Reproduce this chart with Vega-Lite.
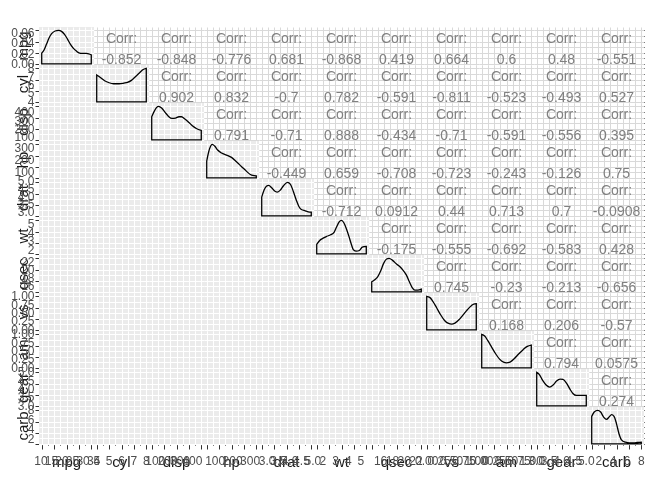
{
  "$schema": "https://vega.github.io/schema/vega-lite/v6.json",
  "background": "white",
  "bounds": "flush",
  "padding": {"left": 11, "top": 27, "right": 5, "bottom": 5},
  "data": {"values": [
    {"k":"c","r":"mpg","c":"mpg","t":"d"},
    {"k":"c","r":"mpg","c":"cyl","t":"u","v":"-0.852"},
    {"k":"c","r":"mpg","c":"disp","t":"u","v":"-0.848"},
    {"k":"c","r":"mpg","c":"hp","t":"u","v":"-0.776"},
    {"k":"c","r":"mpg","c":"drat","t":"u","v":"0.681"},
    {"k":"c","r":"mpg","c":"wt","t":"u","v":"-0.868"},
    {"k":"c","r":"mpg","c":"qsec","t":"u","v":"0.419"},
    {"k":"c","r":"mpg","c":"vs","t":"u","v":"0.664"},
    {"k":"c","r":"mpg","c":"am","t":"u","v":"0.6"},
    {"k":"c","r":"mpg","c":"gear","t":"u","v":"0.48"},
    {"k":"c","r":"mpg","c":"carb","t":"u","v":"-0.551"},
    {"k":"c","r":"cyl","c":"mpg","t":"l"},
    {"k":"c","r":"cyl","c":"cyl","t":"d"},
    {"k":"c","r":"cyl","c":"disp","t":"u","v":"0.902"},
    {"k":"c","r":"cyl","c":"hp","t":"u","v":"0.832"},
    {"k":"c","r":"cyl","c":"drat","t":"u","v":"-0.7"},
    {"k":"c","r":"cyl","c":"wt","t":"u","v":"0.782"},
    {"k":"c","r":"cyl","c":"qsec","t":"u","v":"-0.591"},
    {"k":"c","r":"cyl","c":"vs","t":"u","v":"-0.811"},
    {"k":"c","r":"cyl","c":"am","t":"u","v":"-0.523"},
    {"k":"c","r":"cyl","c":"gear","t":"u","v":"-0.493"},
    {"k":"c","r":"cyl","c":"carb","t":"u","v":"0.527"},
    {"k":"c","r":"disp","c":"mpg","t":"l"},
    {"k":"c","r":"disp","c":"cyl","t":"l"},
    {"k":"c","r":"disp","c":"disp","t":"d"},
    {"k":"c","r":"disp","c":"hp","t":"u","v":"0.791"},
    {"k":"c","r":"disp","c":"drat","t":"u","v":"-0.71"},
    {"k":"c","r":"disp","c":"wt","t":"u","v":"0.888"},
    {"k":"c","r":"disp","c":"qsec","t":"u","v":"-0.434"},
    {"k":"c","r":"disp","c":"vs","t":"u","v":"-0.71"},
    {"k":"c","r":"disp","c":"am","t":"u","v":"-0.591"},
    {"k":"c","r":"disp","c":"gear","t":"u","v":"-0.556"},
    {"k":"c","r":"disp","c":"carb","t":"u","v":"0.395"},
    {"k":"c","r":"hp","c":"mpg","t":"l"},
    {"k":"c","r":"hp","c":"cyl","t":"l"},
    {"k":"c","r":"hp","c":"disp","t":"l"},
    {"k":"c","r":"hp","c":"hp","t":"d"},
    {"k":"c","r":"hp","c":"drat","t":"u","v":"-0.449"},
    {"k":"c","r":"hp","c":"wt","t":"u","v":"0.659"},
    {"k":"c","r":"hp","c":"qsec","t":"u","v":"-0.708"},
    {"k":"c","r":"hp","c":"vs","t":"u","v":"-0.723"},
    {"k":"c","r":"hp","c":"am","t":"u","v":"-0.243"},
    {"k":"c","r":"hp","c":"gear","t":"u","v":"-0.126"},
    {"k":"c","r":"hp","c":"carb","t":"u","v":"0.75"},
    {"k":"c","r":"drat","c":"mpg","t":"l"},
    {"k":"c","r":"drat","c":"cyl","t":"l"},
    {"k":"c","r":"drat","c":"disp","t":"l"},
    {"k":"c","r":"drat","c":"hp","t":"l"},
    {"k":"c","r":"drat","c":"drat","t":"d"},
    {"k":"c","r":"drat","c":"wt","t":"u","v":"-0.712"},
    {"k":"c","r":"drat","c":"qsec","t":"u","v":"0.0912"},
    {"k":"c","r":"drat","c":"vs","t":"u","v":"0.44"},
    {"k":"c","r":"drat","c":"am","t":"u","v":"0.713"},
    {"k":"c","r":"drat","c":"gear","t":"u","v":"0.7"},
    {"k":"c","r":"drat","c":"carb","t":"u","v":"-0.0908"},
    {"k":"c","r":"wt","c":"mpg","t":"l"},
    {"k":"c","r":"wt","c":"cyl","t":"l"},
    {"k":"c","r":"wt","c":"disp","t":"l"},
    {"k":"c","r":"wt","c":"hp","t":"l"},
    {"k":"c","r":"wt","c":"drat","t":"l"},
    {"k":"c","r":"wt","c":"wt","t":"d"},
    {"k":"c","r":"wt","c":"qsec","t":"u","v":"-0.175"},
    {"k":"c","r":"wt","c":"vs","t":"u","v":"-0.555"},
    {"k":"c","r":"wt","c":"am","t":"u","v":"-0.692"},
    {"k":"c","r":"wt","c":"gear","t":"u","v":"-0.583"},
    {"k":"c","r":"wt","c":"carb","t":"u","v":"0.428"},
    {"k":"c","r":"qsec","c":"mpg","t":"l"},
    {"k":"c","r":"qsec","c":"cyl","t":"l"},
    {"k":"c","r":"qsec","c":"disp","t":"l"},
    {"k":"c","r":"qsec","c":"hp","t":"l"},
    {"k":"c","r":"qsec","c":"drat","t":"l"},
    {"k":"c","r":"qsec","c":"wt","t":"l"},
    {"k":"c","r":"qsec","c":"qsec","t":"d"},
    {"k":"c","r":"qsec","c":"vs","t":"u","v":"0.745"},
    {"k":"c","r":"qsec","c":"am","t":"u","v":"-0.23"},
    {"k":"c","r":"qsec","c":"gear","t":"u","v":"-0.213"},
    {"k":"c","r":"qsec","c":"carb","t":"u","v":"-0.656"},
    {"k":"c","r":"vs","c":"mpg","t":"l"},
    {"k":"c","r":"vs","c":"cyl","t":"l"},
    {"k":"c","r":"vs","c":"disp","t":"l"},
    {"k":"c","r":"vs","c":"hp","t":"l"},
    {"k":"c","r":"vs","c":"drat","t":"l"},
    {"k":"c","r":"vs","c":"wt","t":"l"},
    {"k":"c","r":"vs","c":"qsec","t":"l"},
    {"k":"c","r":"vs","c":"vs","t":"d"},
    {"k":"c","r":"vs","c":"am","t":"u","v":"0.168"},
    {"k":"c","r":"vs","c":"gear","t":"u","v":"0.206"},
    {"k":"c","r":"vs","c":"carb","t":"u","v":"-0.57"},
    {"k":"c","r":"am","c":"mpg","t":"l"},
    {"k":"c","r":"am","c":"cyl","t":"l"},
    {"k":"c","r":"am","c":"disp","t":"l"},
    {"k":"c","r":"am","c":"hp","t":"l"},
    {"k":"c","r":"am","c":"drat","t":"l"},
    {"k":"c","r":"am","c":"wt","t":"l"},
    {"k":"c","r":"am","c":"qsec","t":"l"},
    {"k":"c","r":"am","c":"vs","t":"l"},
    {"k":"c","r":"am","c":"am","t":"d"},
    {"k":"c","r":"am","c":"gear","t":"u","v":"0.794"},
    {"k":"c","r":"am","c":"carb","t":"u","v":"0.0575"},
    {"k":"c","r":"gear","c":"mpg","t":"l"},
    {"k":"c","r":"gear","c":"cyl","t":"l"},
    {"k":"c","r":"gear","c":"disp","t":"l"},
    {"k":"c","r":"gear","c":"hp","t":"l"},
    {"k":"c","r":"gear","c":"drat","t":"l"},
    {"k":"c","r":"gear","c":"wt","t":"l"},
    {"k":"c","r":"gear","c":"qsec","t":"l"},
    {"k":"c","r":"gear","c":"vs","t":"l"},
    {"k":"c","r":"gear","c":"am","t":"l"},
    {"k":"c","r":"gear","c":"gear","t":"d"},
    {"k":"c","r":"gear","c":"carb","t":"u","v":"0.274"},
    {"k":"c","r":"carb","c":"mpg","t":"l"},
    {"k":"c","r":"carb","c":"cyl","t":"l"},
    {"k":"c","r":"carb","c":"disp","t":"l"},
    {"k":"c","r":"carb","c":"hp","t":"l"},
    {"k":"c","r":"carb","c":"drat","t":"l"},
    {"k":"c","r":"carb","c":"wt","t":"l"},
    {"k":"c","r":"carb","c":"qsec","t":"l"},
    {"k":"c","r":"carb","c":"vs","t":"l"},
    {"k":"c","r":"carb","c":"am","t":"l"},
    {"k":"c","r":"carb","c":"gear","t":"l"},
    {"k":"c","r":"carb","c":"carb","t":"d"},

    {"k":"d","r":"mpg","c":"mpg","u":0,"h":0.32},{"k":"d","r":"mpg","c":"mpg","u":0.05,"h":0.42},{"k":"d","r":"mpg","c":"mpg","u":0.1,"h":0.6},{"k":"d","r":"mpg","c":"mpg","u":0.15,"h":0.78},{"k":"d","r":"mpg","c":"mpg","u":0.2,"h":0.9},{"k":"d","r":"mpg","c":"mpg","u":0.27,"h":0.98},{"k":"d","r":"mpg","c":"mpg","u":0.34,"h":1},{"k":"d","r":"mpg","c":"mpg","u":0.4,"h":0.97},{"k":"d","r":"mpg","c":"mpg","u":0.46,"h":0.88},{"k":"d","r":"mpg","c":"mpg","u":0.52,"h":0.74},{"k":"d","r":"mpg","c":"mpg","u":0.58,"h":0.58},{"k":"d","r":"mpg","c":"mpg","u":0.64,"h":0.46},{"k":"d","r":"mpg","c":"mpg","u":0.7,"h":0.38},{"k":"d","r":"mpg","c":"mpg","u":0.75,"h":0.33},{"k":"d","r":"mpg","c":"mpg","u":0.82,"h":0.31},{"k":"d","r":"mpg","c":"mpg","u":0.9,"h":0.31},{"k":"d","r":"mpg","c":"mpg","u":0.95,"h":0.3},{"k":"d","r":"mpg","c":"mpg","u":1,"h":0.27},

    {"k":"d","r":"cyl","c":"cyl","u":0,"h":0.8},{"k":"d","r":"cyl","c":"cyl","u":0.08,"h":0.72},{"k":"d","r":"cyl","c":"cyl","u":0.16,"h":0.63},{"k":"d","r":"cyl","c":"cyl","u":0.25,"h":0.57},{"k":"d","r":"cyl","c":"cyl","u":0.34,"h":0.54},{"k":"d","r":"cyl","c":"cyl","u":0.45,"h":0.54},{"k":"d","r":"cyl","c":"cyl","u":0.55,"h":0.56},{"k":"d","r":"cyl","c":"cyl","u":0.62,"h":0.58},{"k":"d","r":"cyl","c":"cyl","u":0.7,"h":0.64},{"k":"d","r":"cyl","c":"cyl","u":0.78,"h":0.75},{"k":"d","r":"cyl","c":"cyl","u":0.86,"h":0.86},{"k":"d","r":"cyl","c":"cyl","u":0.93,"h":0.96},{"k":"d","r":"cyl","c":"cyl","u":1,"h":1},

    {"k":"d","r":"disp","c":"disp","u":0,"h":0.69},{"k":"d","r":"disp","c":"disp","u":0.05,"h":0.85},{"k":"d","r":"disp","c":"disp","u":0.1,"h":0.97},{"k":"d","r":"disp","c":"disp","u":0.14,"h":1},{"k":"d","r":"disp","c":"disp","u":0.2,"h":0.95},{"k":"d","r":"disp","c":"disp","u":0.27,"h":0.82},{"k":"d","r":"disp","c":"disp","u":0.34,"h":0.7},{"k":"d","r":"disp","c":"disp","u":0.41,"h":0.64},{"k":"d","r":"disp","c":"disp","u":0.48,"h":0.65},{"k":"d","r":"disp","c":"disp","u":0.55,"h":0.69},{"k":"d","r":"disp","c":"disp","u":0.6,"h":0.69},{"k":"d","r":"disp","c":"disp","u":0.67,"h":0.62},{"k":"d","r":"disp","c":"disp","u":0.75,"h":0.52},{"k":"d","r":"disp","c":"disp","u":0.82,"h":0.42},{"k":"d","r":"disp","c":"disp","u":0.9,"h":0.34},{"k":"d","r":"disp","c":"disp","u":1,"h":0.28},

    {"k":"d","r":"hp","c":"hp","u":0,"h":0.5},{"k":"d","r":"hp","c":"hp","u":0.04,"h":0.78},{"k":"d","r":"hp","c":"hp","u":0.08,"h":0.95},{"k":"d","r":"hp","c":"hp","u":0.11,"h":1},{"k":"d","r":"hp","c":"hp","u":0.16,"h":0.95},{"k":"d","r":"hp","c":"hp","u":0.22,"h":0.83},{"k":"d","r":"hp","c":"hp","u":0.3,"h":0.74},{"k":"d","r":"hp","c":"hp","u":0.4,"h":0.68},{"k":"d","r":"hp","c":"hp","u":0.5,"h":0.61},{"k":"d","r":"hp","c":"hp","u":0.6,"h":0.48},{"k":"d","r":"hp","c":"hp","u":0.7,"h":0.34},{"k":"d","r":"hp","c":"hp","u":0.8,"h":0.2},{"k":"d","r":"hp","c":"hp","u":0.88,"h":0.1},{"k":"d","r":"hp","c":"hp","u":0.93,"h":0.07},{"k":"d","r":"hp","c":"hp","u":1,"h":0.06},

    {"k":"d","r":"drat","c":"drat","u":0,"h":0.56},{"k":"d","r":"drat","c":"drat","u":0.05,"h":0.78},{"k":"d","r":"drat","c":"drat","u":0.1,"h":0.89},{"k":"d","r":"drat","c":"drat","u":0.14,"h":0.91},{"k":"d","r":"drat","c":"drat","u":0.2,"h":0.84},{"k":"d","r":"drat","c":"drat","u":0.26,"h":0.74},{"k":"d","r":"drat","c":"drat","u":0.31,"h":0.71},{"k":"d","r":"drat","c":"drat","u":0.37,"h":0.76},{"k":"d","r":"drat","c":"drat","u":0.44,"h":0.9},{"k":"d","r":"drat","c":"drat","u":0.52,"h":1},{"k":"d","r":"drat","c":"drat","u":0.58,"h":0.94},{"k":"d","r":"drat","c":"drat","u":0.64,"h":0.72},{"k":"d","r":"drat","c":"drat","u":0.7,"h":0.46},{"k":"d","r":"drat","c":"drat","u":0.75,"h":0.28},{"k":"d","r":"drat","c":"drat","u":0.8,"h":0.19},{"k":"d","r":"drat","c":"drat","u":0.88,"h":0.15},{"k":"d","r":"drat","c":"drat","u":0.94,"h":0.12},{"k":"d","r":"drat","c":"drat","u":1,"h":0.11},

    {"k":"d","r":"wt","c":"wt","u":0,"h":0.28},{"k":"d","r":"wt","c":"wt","u":0.06,"h":0.4},{"k":"d","r":"wt","c":"wt","u":0.12,"h":0.46},{"k":"d","r":"wt","c":"wt","u":0.2,"h":0.52},{"k":"d","r":"wt","c":"wt","u":0.28,"h":0.57},{"k":"d","r":"wt","c":"wt","u":0.35,"h":0.64},{"k":"d","r":"wt","c":"wt","u":0.4,"h":0.8},{"k":"d","r":"wt","c":"wt","u":0.45,"h":0.95},{"k":"d","r":"wt","c":"wt","u":0.5,"h":1},{"k":"d","r":"wt","c":"wt","u":0.55,"h":0.92},{"k":"d","r":"wt","c":"wt","u":0.6,"h":0.74},{"k":"d","r":"wt","c":"wt","u":0.65,"h":0.52},{"k":"d","r":"wt","c":"wt","u":0.7,"h":0.28},{"k":"d","r":"wt","c":"wt","u":0.74,"h":0.12},{"k":"d","r":"wt","c":"wt","u":0.8,"h":0.08},{"k":"d","r":"wt","c":"wt","u":0.86,"h":0.1},{"k":"d","r":"wt","c":"wt","u":0.92,"h":0.2},{"k":"d","r":"wt","c":"wt","u":1,"h":0.22},

    {"k":"d","r":"qsec","c":"qsec","u":0,"h":0.3},{"k":"d","r":"qsec","c":"qsec","u":0.06,"h":0.36},{"k":"d","r":"qsec","c":"qsec","u":0.12,"h":0.45},{"k":"d","r":"qsec","c":"qsec","u":0.18,"h":0.62},{"k":"d","r":"qsec","c":"qsec","u":0.24,"h":0.85},{"k":"d","r":"qsec","c":"qsec","u":0.3,"h":0.98},{"k":"d","r":"qsec","c":"qsec","u":0.35,"h":1},{"k":"d","r":"qsec","c":"qsec","u":0.42,"h":0.94},{"k":"d","r":"qsec","c":"qsec","u":0.5,"h":0.83},{"k":"d","r":"qsec","c":"qsec","u":0.57,"h":0.75},{"k":"d","r":"qsec","c":"qsec","u":0.63,"h":0.65},{"k":"d","r":"qsec","c":"qsec","u":0.7,"h":0.5},{"k":"d","r":"qsec","c":"qsec","u":0.76,"h":0.3},{"k":"d","r":"qsec","c":"qsec","u":0.82,"h":0.12},{"k":"d","r":"qsec","c":"qsec","u":0.87,"h":0.05},{"k":"d","r":"qsec","c":"qsec","u":0.93,"h":0.05},{"k":"d","r":"qsec","c":"qsec","u":1,"h":0.08},

    {"k":"d","r":"vs","c":"vs","u":0,"h":1},{"k":"d","r":"vs","c":"vs","u":0.06,"h":0.97},{"k":"d","r":"vs","c":"vs","u":0.12,"h":0.86},{"k":"d","r":"vs","c":"vs","u":0.2,"h":0.66},{"k":"d","r":"vs","c":"vs","u":0.28,"h":0.45},{"k":"d","r":"vs","c":"vs","u":0.36,"h":0.28},{"k":"d","r":"vs","c":"vs","u":0.44,"h":0.19},{"k":"d","r":"vs","c":"vs","u":0.5,"h":0.17},{"k":"d","r":"vs","c":"vs","u":0.57,"h":0.2},{"k":"d","r":"vs","c":"vs","u":0.65,"h":0.3},{"k":"d","r":"vs","c":"vs","u":0.73,"h":0.44},{"k":"d","r":"vs","c":"vs","u":0.82,"h":0.6},{"k":"d","r":"vs","c":"vs","u":0.9,"h":0.72},{"k":"d","r":"vs","c":"vs","u":0.95,"h":0.77},{"k":"d","r":"vs","c":"vs","u":1,"h":0.78},

    {"k":"d","r":"am","c":"am","u":0,"h":1},{"k":"d","r":"am","c":"am","u":0.06,"h":0.95},{"k":"d","r":"am","c":"am","u":0.12,"h":0.82},{"k":"d","r":"am","c":"am","u":0.2,"h":0.62},{"k":"d","r":"am","c":"am","u":0.28,"h":0.42},{"k":"d","r":"am","c":"am","u":0.36,"h":0.26},{"k":"d","r":"am","c":"am","u":0.44,"h":0.17},{"k":"d","r":"am","c":"am","u":0.5,"h":0.15},{"k":"d","r":"am","c":"am","u":0.58,"h":0.18},{"k":"d","r":"am","c":"am","u":0.66,"h":0.28},{"k":"d","r":"am","c":"am","u":0.75,"h":0.42},{"k":"d","r":"am","c":"am","u":0.84,"h":0.55},{"k":"d","r":"am","c":"am","u":0.92,"h":0.64},{"k":"d","r":"am","c":"am","u":1,"h":0.68},

    {"k":"d","r":"gear","c":"gear","u":0,"h":1},{"k":"d","r":"gear","c":"gear","u":0.05,"h":0.94},{"k":"d","r":"gear","c":"gear","u":0.12,"h":0.76},{"k":"d","r":"gear","c":"gear","u":0.19,"h":0.62},{"k":"d","r":"gear","c":"gear","u":0.26,"h":0.56},{"k":"d","r":"gear","c":"gear","u":0.33,"h":0.62},{"k":"d","r":"gear","c":"gear","u":0.4,"h":0.74},{"k":"d","r":"gear","c":"gear","u":0.47,"h":0.8},{"k":"d","r":"gear","c":"gear","u":0.53,"h":0.79},{"k":"d","r":"gear","c":"gear","u":0.6,"h":0.68},{"k":"d","r":"gear","c":"gear","u":0.67,"h":0.5},{"k":"d","r":"gear","c":"gear","u":0.73,"h":0.37},{"k":"d","r":"gear","c":"gear","u":0.8,"h":0.31},{"k":"d","r":"gear","c":"gear","u":0.9,"h":0.31},{"k":"d","r":"gear","c":"gear","u":1,"h":0.31},

    {"k":"d","r":"carb","c":"carb","u":0,"h":0.82},{"k":"d","r":"carb","c":"carb","u":0.05,"h":0.95},{"k":"d","r":"carb","c":"carb","u":0.12,"h":1},{"k":"d","r":"carb","c":"carb","u":0.18,"h":0.95},{"k":"d","r":"carb","c":"carb","u":0.24,"h":0.8},{"k":"d","r":"carb","c":"carb","u":0.3,"h":0.73},{"k":"d","r":"carb","c":"carb","u":0.35,"h":0.8},{"k":"d","r":"carb","c":"carb","u":0.4,"h":0.87},{"k":"d","r":"carb","c":"carb","u":0.45,"h":0.82},{"k":"d","r":"carb","c":"carb","u":0.5,"h":0.6},{"k":"d","r":"carb","c":"carb","u":0.55,"h":0.3},{"k":"d","r":"carb","c":"carb","u":0.6,"h":0.12},{"k":"d","r":"carb","c":"carb","u":0.68,"h":0.05},{"k":"d","r":"carb","c":"carb","u":0.76,"h":0.03},{"k":"d","r":"carb","c":"carb","u":0.85,"h":0.03},{"k":"d","r":"carb","c":"carb","u":0.92,"h":0.04},{"k":"d","r":"carb","c":"carb","u":1,"h":0.05},

    {"k":"xl","r":"carb","c":"mpg","u":-0.017,"lab":"10"},{"k":"xl","r":"carb","c":"mpg","u":0.196,"lab":"15"},{"k":"xl","r":"carb","c":"mpg","u":0.409,"lab":"20"},{"k":"xl","r":"carb","c":"mpg","u":0.621,"lab":"25"},{"k":"xl","r":"carb","c":"mpg","u":0.834,"lab":"30"},{"k":"xl","r":"carb","c":"mpg","u":1.047,"lab":"35"},
    {"k":"xl","r":"carb","c":"cyl","u":0,"lab":"4"},{"k":"xl","r":"carb","c":"cyl","u":0.25,"lab":"5"},{"k":"xl","r":"carb","c":"cyl","u":0.5,"lab":"6"},{"k":"xl","r":"carb","c":"cyl","u":0.75,"lab":"7"},{"k":"xl","r":"carb","c":"cyl","u":1,"lab":"8"},
    {"k":"xl","r":"carb","c":"disp","u":0.072,"lab":"100"},{"k":"xl","r":"carb","c":"disp","u":0.322,"lab":"200"},{"k":"xl","r":"carb","c":"disp","u":0.571,"lab":"300"},{"k":"xl","r":"carb","c":"disp","u":0.82,"lab":"400"},
    {"k":"xl","r":"carb","c":"hp","u":0.17,"lab":"100"},{"k":"xl","r":"carb","c":"hp","u":0.523,"lab":"200"},{"k":"xl","r":"carb","c":"hp","u":0.876,"lab":"300"},
    {"k":"xl","r":"carb","c":"drat","u":0.11,"lab":"3.0"},{"k":"xl","r":"carb","c":"drat","u":0.341,"lab":"3.5"},{"k":"xl","r":"carb","c":"drat","u":0.571,"lab":"4.0"},{"k":"xl","r":"carb","c":"drat","u":0.802,"lab":"4.5"},{"k":"xl","r":"carb","c":"drat","u":1.032,"lab":"5.0"},
    {"k":"xl","r":"carb","c":"wt","u":0.125,"lab":"2"},{"k":"xl","r":"carb","c":"wt","u":0.38,"lab":"3"},{"k":"xl","r":"carb","c":"wt","u":0.636,"lab":"4"},{"k":"xl","r":"carb","c":"wt","u":0.891,"lab":"5"},
    {"k":"xl","r":"carb","c":"qsec","u":0.179,"lab":"16"},{"k":"xl","r":"carb","c":"qsec","u":0.417,"lab":"18"},{"k":"xl","r":"carb","c":"qsec","u":0.655,"lab":"20"},{"k":"xl","r":"carb","c":"qsec","u":0.893,"lab":"22"},
    {"k":"xl","r":"carb","c":"vs","u":0,"lab":"0.00"},{"k":"xl","r":"carb","c":"vs","u":0.25,"lab":"0.25"},{"k":"xl","r":"carb","c":"vs","u":0.5,"lab":"0.50"},{"k":"xl","r":"carb","c":"vs","u":0.75,"lab":"0.75"},{"k":"xl","r":"carb","c":"vs","u":1,"lab":"1.00"},
    {"k":"xl","r":"carb","c":"am","u":0,"lab":"0.00"},{"k":"xl","r":"carb","c":"am","u":0.25,"lab":"0.25"},{"k":"xl","r":"carb","c":"am","u":0.5,"lab":"0.50"},{"k":"xl","r":"carb","c":"am","u":0.75,"lab":"0.75"},{"k":"xl","r":"carb","c":"am","u":1,"lab":"1.00"},
    {"k":"xl","r":"carb","c":"gear","u":0,"lab":"3.0"},{"k":"xl","r":"carb","c":"gear","u":0.25,"lab":"3.5"},{"k":"xl","r":"carb","c":"gear","u":0.5,"lab":"4.0"},{"k":"xl","r":"carb","c":"gear","u":0.75,"lab":"4.5"},{"k":"xl","r":"carb","c":"gear","u":1,"lab":"5.0"},
    {"k":"xl","r":"carb","c":"carb","u":0.143,"lab":"2"},{"k":"xl","r":"carb","c":"carb","u":0.429,"lab":"4"},{"k":"xl","r":"carb","c":"carb","u":0.714,"lab":"6"},{"k":"xl","r":"carb","c":"carb","u":1,"lab":"8"},

    {"k":"yl","r":"mpg","c":"mpg","h":0,"lab":"0.00"},{"k":"yl","r":"mpg","c":"mpg","h":0.3,"lab":"0.02"},{"k":"yl","r":"mpg","c":"mpg","h":0.61,"lab":"0.04"},{"k":"yl","r":"mpg","c":"mpg","h":0.91,"lab":"0.06"},
    {"k":"yl","r":"cyl","c":"mpg","h":0,"lab":"4"},{"k":"yl","r":"cyl","c":"mpg","h":0.25,"lab":"5"},{"k":"yl","r":"cyl","c":"mpg","h":0.5,"lab":"6"},{"k":"yl","r":"cyl","c":"mpg","h":0.75,"lab":"7"},{"k":"yl","r":"cyl","c":"mpg","h":1,"lab":"8"},
    {"k":"yl","r":"disp","c":"mpg","h":0.072,"lab":"100"},{"k":"yl","r":"disp","c":"mpg","h":0.322,"lab":"200"},{"k":"yl","r":"disp","c":"mpg","h":0.571,"lab":"300"},{"k":"yl","r":"disp","c":"mpg","h":0.82,"lab":"400"},
    {"k":"yl","r":"hp","c":"mpg","h":0.17,"lab":"100"},{"k":"yl","r":"hp","c":"mpg","h":0.523,"lab":"200"},{"k":"yl","r":"hp","c":"mpg","h":0.876,"lab":"300"},
    {"k":"yl","r":"drat","c":"mpg","h":0.11,"lab":"3.0"},{"k":"yl","r":"drat","c":"mpg","h":0.341,"lab":"3.5"},{"k":"yl","r":"drat","c":"mpg","h":0.571,"lab":"4.0"},{"k":"yl","r":"drat","c":"mpg","h":0.802,"lab":"4.5"},{"k":"yl","r":"drat","c":"mpg","h":1.032,"lab":"5.0"},
    {"k":"yl","r":"wt","c":"mpg","h":0.125,"lab":"2"},{"k":"yl","r":"wt","c":"mpg","h":0.38,"lab":"3"},{"k":"yl","r":"wt","c":"mpg","h":0.636,"lab":"4"},{"k":"yl","r":"wt","c":"mpg","h":0.891,"lab":"5"},
    {"k":"yl","r":"qsec","c":"mpg","h":0.179,"lab":"16"},{"k":"yl","r":"qsec","c":"mpg","h":0.417,"lab":"18"},{"k":"yl","r":"qsec","c":"mpg","h":0.655,"lab":"20"},{"k":"yl","r":"qsec","c":"mpg","h":0.893,"lab":"22"},
    {"k":"yl","r":"vs","c":"mpg","h":0,"lab":"0.00"},{"k":"yl","r":"vs","c":"mpg","h":0.25,"lab":"0.25"},{"k":"yl","r":"vs","c":"mpg","h":0.5,"lab":"0.50"},{"k":"yl","r":"vs","c":"mpg","h":0.75,"lab":"0.75"},{"k":"yl","r":"vs","c":"mpg","h":1,"lab":"1.00"},
    {"k":"yl","r":"am","c":"mpg","h":0,"lab":"0.00"},{"k":"yl","r":"am","c":"mpg","h":0.25,"lab":"0.25"},{"k":"yl","r":"am","c":"mpg","h":0.5,"lab":"0.50"},{"k":"yl","r":"am","c":"mpg","h":0.75,"lab":"0.75"},{"k":"yl","r":"am","c":"mpg","h":1,"lab":"1.00"},
    {"k":"yl","r":"gear","c":"mpg","h":0,"lab":"3.0"},{"k":"yl","r":"gear","c":"mpg","h":0.25,"lab":"3.5"},{"k":"yl","r":"gear","c":"mpg","h":0.5,"lab":"4.0"},{"k":"yl","r":"gear","c":"mpg","h":0.75,"lab":"4.5"},{"k":"yl","r":"gear","c":"mpg","h":1,"lab":"5.0"},
    {"k":"yl","r":"carb","c":"mpg","h":0.143,"lab":"2"},{"k":"yl","r":"carb","c":"mpg","h":0.429,"lab":"4"},{"k":"yl","r":"carb","c":"mpg","h":0.714,"lab":"6"},{"k":"yl","r":"carb","c":"mpg","h":1,"lab":"8"}
  ]},
  "facet": {
    "row": {"field": "r", "type": "nominal", "title": null,
      "sort": ["mpg","cyl","disp","hp","drat","wt","qsec","vs","am","gear","carb"],
      "header": {"labelOrient": "left", "labelAngle": -90, "labelPadding": -11.5, "labelFontSize": 15, "labelFont": "Liberation Sans", "labelColor": "#1a1a1a", "labelBaseline": "bottom"}},
    "column": {"field": "c", "type": "nominal", "title": null,
      "sort": ["mpg","cyl","disp","hp","drat","wt","qsec","vs","am","gear","carb"],
      "header": {"labelOrient": "bottom", "labelPadding": 17.5, "labelBaseline": "alphabetic", "labelFontSize": 15, "labelFont": "Liberation Sans", "labelColor": "#1a1a1a"}}
  },
  "spacing": {"row": 0, "column": 0},
  "spec": {
    "width": 55,
    "height": 38,
    "layer": [
      {
        "transform": [{"filter": "datum.k == 'c' && datum.t == 'u'"}],
        "mark": {"type": "rect", "fill": "#d9d9d9", "blend": "screen"},
        "encoding": {"x": {"value": 0}, "x2": {"value": "width"}, "y": {"value": 0}, "y2": {"value": "height"}}
      },
      {
        "transform": [{"filter": "datum.k == 'c' && datum.t != 'u'"}],
        "mark": {"type": "rect", "fill": "#ffffff", "blend": "difference"},
        "encoding": {"x": {"value": 0}, "x2": {"value": "width"}, "y": {"value": 0}, "y2": {"value": "height"}}
      },
      {
        "transform": [{"filter": "datum.k == 'c' && datum.t != 'u'"}],
        "mark": {"type": "rect", "fill": "#ebebeb", "blend": "screen"},
        "encoding": {"x": {"value": 0}, "x2": {"value": "width"}, "y": {"value": 0}, "y2": {"value": "height"}}
      },
      {
        "transform": [{"filter": "datum.k == 'd'"}],
        "mark": {"type": "area", "fillOpacity": 0, "stroke": "black", "strokeWidth": 1.3, "interpolate": "monotone"},
        "encoding": {
          "x": {"field": "u", "type": "quantitative", "title": null,
            "scale": {"domain": [-0.055, 1.055], "nice": false, "zero": false},
            "axis": {"values": [0, 0.125, 0.25, 0.375, 0.5, 0.625, 0.75, 0.875, 1], "labels": false, "domain": false, "minExtent": 0,
              "grid": true, "gridColor": "#000000", "gridWidth": 1, "gridOpacity": 1,
              "ticks": true, "tickSize": 4, "tickWidth": 1,
              "tickColor": {"condition": {"test": "round(datum.value*8) % 2 == 0", "value": "#333333"}, "value": "transparent"}}},
          "y": {"field": "h", "type": "quantitative", "title": null,
            "scale": {"domain": [-0.035, 1.1], "nice": false, "zero": false},
            "axis": {"values": [0, 0.16667, 0.33333, 0.5, 0.66667, 0.83333, 1], "labels": false, "domain": false, "minExtent": 0,
              "grid": true, "gridColor": "#000000", "gridWidth": 1, "gridOpacity": 1,
              "ticks": true, "tickSize": 4, "tickWidth": 1,
              "tickColor": {"condition": {"test": "round(datum.value*6) % 2 == 0", "value": "#333333"}, "value": "transparent"}}},
          "y2": {"datum": 0}
        }
      },
      {
        "transform": [{"filter": "datum.k == 'c' && datum.t == 'u'"}],
        "mark": {"type": "text", "text": "Corr:", "fontSize": 14, "font": "Liberation Sans", "color": "#808080", "baseline": "middle", "align": "center", "x": {"expr": "child_width/2"}, "y": {"expr": "child_height*0.31"}},
        "encoding": {}
      },
      {
        "transform": [{"filter": "datum.k == 'c' && datum.t == 'u'"}],
        "mark": {"type": "text", "fontSize": 14, "font": "Liberation Sans", "color": "#808080", "baseline": "middle", "align": "center", "x": {"expr": "child_width/2"}, "y": {"expr": "child_height*0.86"}},
        "encoding": {"text": {"field": "v", "type": "nominal"}}
      },
      {
        "transform": [{"filter": "datum.k == 'xl'"}],
        "mark": {"type": "text", "fontSize": 12, "font": "Liberation Sans", "color": "#4d4d4d", "baseline": "middle", "align": "center", "y": {"expr": "child_height + 16"}},
        "encoding": {
          "x": {"field": "u", "type": "quantitative", "title": null,
            "scale": {"domain": [-0.055, 1.055], "nice": false, "zero": false},
            "axis": {"values": [0, 0.125, 0.25, 0.375, 0.5, 0.625, 0.75, 0.875, 1], "labels": false, "domain": false, "minExtent": 0,
              "grid": true, "gridColor": "#000000", "gridWidth": 1, "gridOpacity": 1,
              "ticks": true, "tickSize": 4, "tickWidth": 1,
              "tickColor": {"condition": {"test": "round(datum.value*8) % 2 == 0", "value": "#333333"}, "value": "transparent"}}},
          "text": {"field": "lab", "type": "nominal"}
        }
      },
      {
        "transform": [{"filter": "datum.k == 'yl'"}],
        "mark": {"type": "text", "fontSize": 12, "font": "Liberation Sans", "color": "#4d4d4d", "baseline": "middle", "align": "right", "x": {"expr": "-4.5"}},
        "encoding": {
          "y": {"field": "h", "type": "quantitative", "title": null,
            "scale": {"domain": [-0.035, 1.1], "nice": false, "zero": false},
            "axis": {"values": [0, 0.16667, 0.33333, 0.5, 0.66667, 0.83333, 1], "labels": false, "domain": false, "minExtent": 0,
              "grid": true, "gridColor": "#000000", "gridWidth": 1, "gridOpacity": 1,
              "ticks": true, "tickSize": 4, "tickWidth": 1,
              "tickColor": {"condition": {"test": "round(datum.value*6) % 2 == 0", "value": "#333333"}, "value": "transparent"}}},
          "text": {"field": "lab", "type": "nominal"}
        }
      }
    ]
  },
  "config": {"view": {"stroke": null}}
}
